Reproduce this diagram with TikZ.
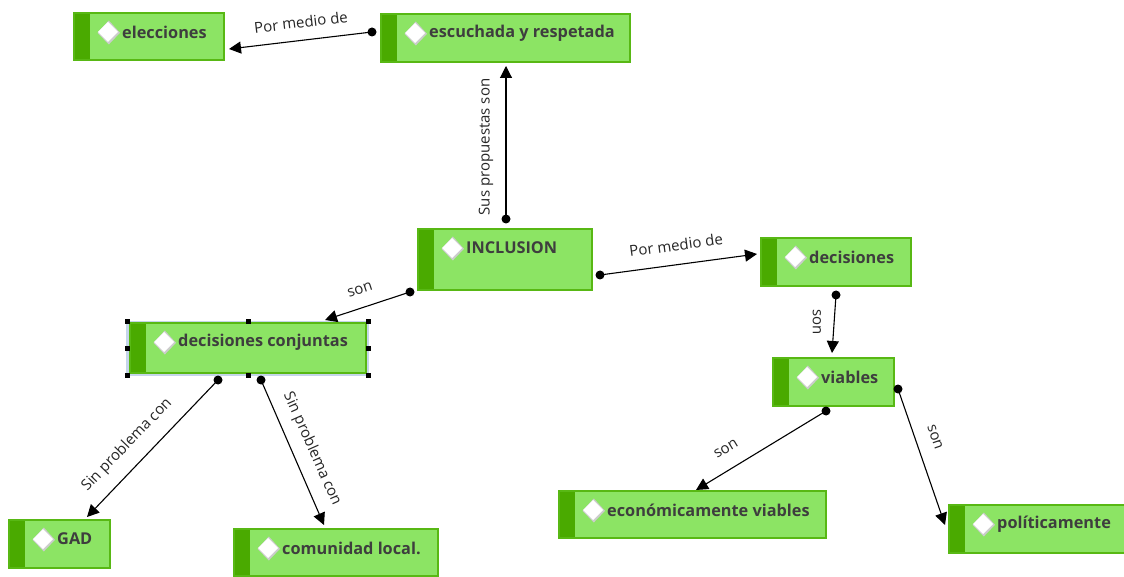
\documentclass[tikz,border=0pt]{standalone}
\usepackage{fontspec}
\setmainfont{Open Sans}
\usetikzlibrary{arrows.meta}
\definecolor{fillg}{RGB}{140,228,100}
\definecolor{stripg}{RGB}{74,170,0}
\definecolor{bordg}{RGB}{88,184,20}
\definecolor{txtc}{RGB}{62,62,62}
\definecolor{selb}{RGB}{197,213,234}
\tikzset{
  cbox/.style={draw=bordg, line width=1.3pt, fill=fillg, inner sep=0pt, outer sep=0pt, anchor=north west},
  ctext/.style={anchor=west, inner sep=0pt, text=txtc, font=\fontsize{16.3}{19}\selectfont\bfseries},
  diamondicon/.pic={
    \fill[black!20] (0.8,-11.5)--(12,0.8)--(0.8,12.5)--(-10.5,0.8)--cycle;
    \fill[white] (0,-10)--(10,0)--(0,10)--(-10,0)--cycle;},
  conn/.style={line width=1.1pt, -{Triangle[length=12pt,width=12pt]}},
  cdot/.style={circle, fill=black, inner sep=0pt, minimum size=9pt},
  lab/.style={font=\fontsize{15}{17}\selectfont, inner sep=0pt, text=black!85},
  handle/.style={fill=black, minimum size=5pt, inner sep=0pt}
}
\newcommand\cmbox[6]{%
  \node[cbox, minimum width={#4-#2}, minimum height={#5-#3}] (#1) at (#2,#3) {};
  \fill[stripg] ([shift={(0.65,0.65)}]#1.north west) rectangle ([shift={(16,-0.65)}]#1.south west);
  \pic at ([shift={(34,19)}]#1.north west) {diamondicon};
  \node[ctext] (#1-t) at ([shift={(48,19)}]#1.north west) {#6};
}
\begin{document}
\begin{tikzpicture}[x=1pt,y=-1pt]
\useasboundingbox[fill=white] (0,0) rectangle (1124,577);
% selection frame
\fill[selb] (126,321) rectangle (369,376);
\cmbox{elec}{74}{13}{224}{60}{elecciones}
\cmbox{esc}{381}{14}{630}{62}{escuchada y respetada}
\cmbox{inc}{418}{229}{592}{290}{INCLUSION}
\cmbox{dec}{761}{238}{911}{286}{decisiones}
\cmbox{dcj}{130}{323}{366}{373}{decisiones conjuntas}
\cmbox{via}{773}{358}{894}{406}{viables}
\cmbox{gad}{9}{520}{110}{568}{GAD}
\cmbox{com}{234}{529}{438}{576}{comunidad local.}
\cmbox{eco}{559}{491}{826}{538}{económicamente viables}
\cmbox{pol}{949}{505}{1130}{553}{políticamente}
% selection handles
\foreach \hx/\hy [count=\i] in {127/321,248/321,368/321,127/348,368/348,127/375,248/375,368/375}
  \node[handle] (h\i) at (\hx,\hy) {};
% connectors
\draw[conn] ([shift={(-9,-6)}]esc.west) coordinate (c1) -- ([shift={(5,12.5)}]elec.east);
\node[cdot] at (c1) {};
\draw[conn] ([shift={(1,-10)}]inc.north) coordinate (c2) -- ([shift={(0.5,4)}]esc.south);
\node[cdot] at (c2) {};
\draw[conn] ([shift={(8,15.5)}]inc.east) coordinate (c3) -- ([shift={(-4,-8)}]dec.west);
\node[cdot] at (c3) {};
\draw[conn] ([shift={(-8,2)}]inc.south west) coordinate (c4) -- ([shift={(-41,-3)}]dcj.north east);
\node[cdot] at (c4) {};
\draw[conn] ([shift={(0,9)}]dec.south) coordinate (c5) -- ([shift={(-1.5,-5)}]via.north);
\node[cdot] at (c5) {};
\draw[conn] ([shift={(-30,7)}]dcj.south) coordinate (c6) -- ([shift={(27.5,-3)}]gad.north);
\node[cdot] at (c6) {};
\draw[conn] ([shift={(13,7)}]dcj.south) coordinate (c7) -- ([shift={(-12,-4)}]com.north);
\node[cdot] at (c7) {};
\draw[conn] ([shift={(-7.5,5)}]via.south) coordinate (c8) -- ([shift={(3.5,-1)}]eco.north);
\node[cdot] at (c8) {};
\draw[conn] ([shift={(4,7)}]via.east) coordinate (c9) -- ([shift={(-4,-4)}]pol.west);
\node[cdot] at (c9) {};
% labels
\node[lab, rotate=6.8] (l1) at (301,22) {Por medio de};
\node[lab, rotate=90] (l2) at (486,147) {Sus propuestas son};
\node[lab, rotate=7.6] (l3) at (676,245) {Por medio de};
\node[lab, rotate=18] (l4) at (360,290) {son};
\node[lab, rotate=-90] (l5) at (817,322) {son};
\node[lab, rotate=46] (l6) at (127,445) {Sin problema con};
\node[lab, rotate=-66] (l7) at (312,449) {Sin problema con};
\node[lab, rotate=31] (l8) at (726,449) {son};
\node[lab, rotate=-71] (l9) at (935,437) {son};
\end{tikzpicture}
\end{document}
